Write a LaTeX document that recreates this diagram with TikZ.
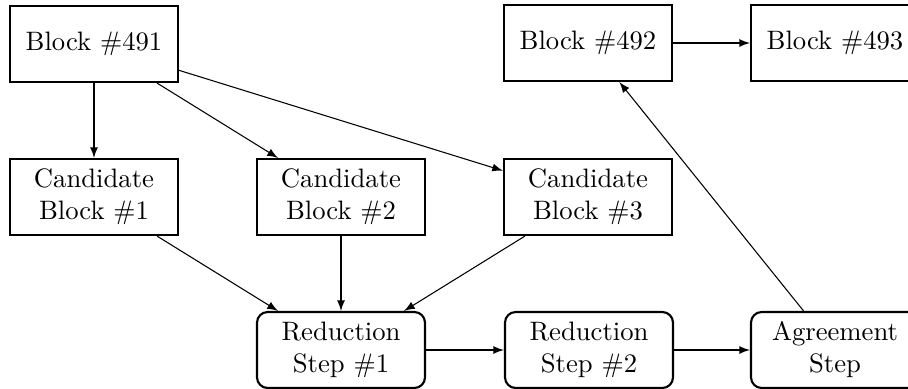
\documentclass[tikz,border=0pt]{standalone}
\usetikzlibrary{arrows}
\begin{document}
\begin{tikzpicture}[x=0.375pt,y=-0.375pt,
  blockbox/.style={draw,thick,minimum width=63pt,minimum height=28.5pt,align=center,inner sep=2pt},
  stepbox/.style={blockbox,rounded corners=4pt},
  conn/.style={-latex}]
\useasboundingbox (0,0) rectangle (908,389);
\clip (0,0) rectangle (908,389);
\node[blockbox] (b491) at (94,44) {Block $\#$491};
\node[blockbox] (b492) at (588,43) {Block $\#$492};
\node[blockbox] (b493) at (835,43) {Block $\#$493};
\node[blockbox] (c1) at (94,197) {Candidate\\Block $\#$1};
\node[blockbox] (c2) at (341,197) {Candidate\\Block $\#$2};
\node[blockbox] (c3) at (588,197) {Candidate\\Block $\#$3};
\node[stepbox] (r1) at (341,350) {Reduction\\Step $\#$1};
\node[stepbox] (r2) at (589,350) {Reduction\\Step $\#$2};
\node[stepbox] (ag) at (835,350) {Agreement\\Step};
\draw[conn] (b491) -- (c1);
\draw[conn] (b491) -- (c2);
\draw[conn] (b491) -- (c3);
\draw[conn] (c1) -- (r1);
\draw[conn] (c2) -- (r1);
\draw[conn] (c3) -- (r1);
\draw[conn] (r1) -- (r2);
\draw[conn] (r2) -- (ag);
\draw[conn] (ag) -- (b492);
\draw[conn] (b492) -- (b493);
\end{tikzpicture}
\end{document}
